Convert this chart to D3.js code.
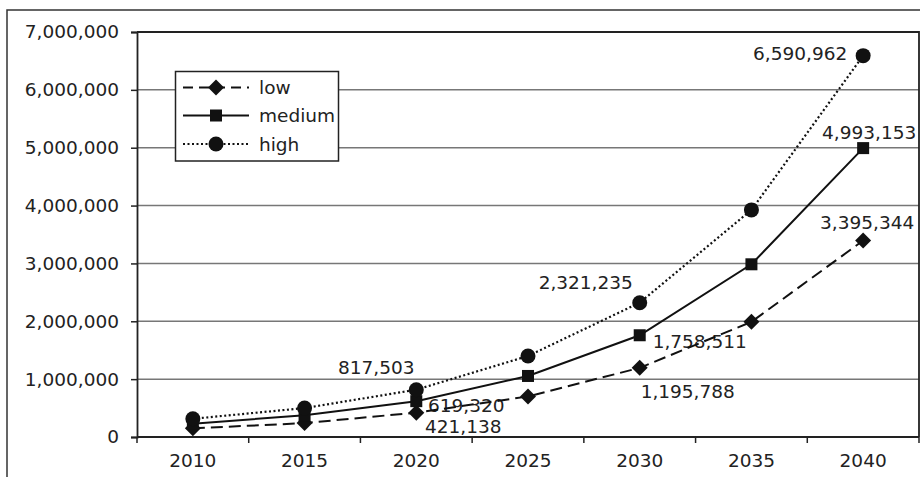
<!DOCTYPE html>
<html>
<head>
<meta charset="utf-8">
<script src="https://cdn.jsdelivr.net/npm/d3@7"></script>
<style>
  html, body { margin: 0; padding: 0; background: #fff; }
  svg { display: block; }
  text { font-family: "DejaVu Sans", sans-serif; fill: #222; }
</style>
</head>
<body>
<svg id="chart" width="920" height="477"></svg>
<script>
// Projection years and the three scenarios
const years = ["2010", "2015", "2020", "2025", "2030", "2035", "2040"];
const lowValues    = [150000, 240000, 421138, 700000, 1195788, 1990000, 3395344];
const mediumValues = [230000, 375000, 619320, 1055000, 1758511, 2985000, 4993153];
const highValues   = [315000, 500000, 817503, 1400000, 2321235, 3925000, 6590962];
const seriesNames  = ["low", "medium", "high"];
const yTickValues  = [0, 1000000, 2000000, 3000000, 4000000, 5000000, 6000000, 7000000];
const labelledIndices = [2, 4, 6];

const W = 920, H = 477;
const plot = { left: 137, right: 919, top: 32, bottom: 437 };
const fontSize = 18.5;
const fmt = d3.format(",");

const svg = d3.select("#chart");

const x = d3.scaleBand().domain(years).range([plot.left, plot.right]).padding(0);
const y = d3.scaleLinear().domain([0, 7000000]).range([plot.bottom, plot.top]);
const cx = d => x(d) + x.bandwidth() / 2;

// Series styling
const styles = {
  low:    { dash: "12,6", marker: "diamond" },
  medium: { dash: null,   marker: "square"  },
  high:   { dash: "2,2.5", marker: "circle" }
};

const series = [
  { name: "low",    values: lowValues },
  { name: "medium", values: mediumValues },
  { name: "high",   values: highValues }
];

// Label placement around each labelled point (text centre offset from the marker)
const labelOffsets = {
  low:    [[47, 14], [48, 24], [4, -18]],
  medium: [[50, 4],  [60, 6],  [6, -16]],
  high:   [[-40, -22], [-54, -20], [-63, -2]]
};

// Outer frame (runs off the right and bottom edges)
svg.append("path")
  .attr("d", `M7,${H + 2} V10 H${W + 2}`)
  .attr("fill", "none")
  .attr("stroke", "#333")
  .attr("stroke-width", 1.5);

// Horizontal gridlines
svg.append("g")
  .selectAll("line")
  .data(yTickValues.filter(v => v > 0 && v < 7000000))
  .join("line")
  .attr("x1", plot.left).attr("x2", plot.right)
  .attr("y1", d => y(d)).attr("y2", d => y(d))
  .attr("stroke", "#777")
  .attr("stroke-width", 1.5);

// Top and right plot borders
svg.append("path")
  .attr("d", `M${plot.left},${plot.top} H${plot.right} V${plot.bottom}`)
  .attr("fill", "none")
  .attr("stroke", "#222")
  .attr("stroke-width", 1.8);

// Y axis
const yAxis = d3.axisLeft(y)
  .tickValues(yTickValues)
  .tickFormat(fmt)
  .tickSize(6)
  .tickPadding(12);
const gy = svg.append("g").attr("transform", `translate(${plot.left},0)`).call(yAxis);
gy.select(".domain").attr("stroke", "#222").attr("stroke-width", 1.8);
gy.selectAll(".tick line").attr("stroke", "#222").attr("stroke-width", 1.5);
gy.selectAll(".tick text").style("font-size", fontSize + "px").attr("fill", "#222");

// X axis: ticks at category boundaries, labels centred on categories
const gx = svg.append("g").attr("transform", `translate(0,${plot.bottom})`);
gx.append("line")
  .attr("x1", plot.left).attr("x2", plot.right)
  .attr("stroke", "#222").attr("stroke-width", 1.8);
const boundaries = years.map(d => x(d)).concat([plot.right]);
gx.selectAll("line.tb")
  .data(boundaries)
  .join("line")
  .attr("class", "tb")
  .attr("x1", d => d).attr("x2", d => d)
  .attr("y1", 0).attr("y2", 6)
  .attr("stroke", "#222").attr("stroke-width", 1.5);
gx.selectAll("text")
  .data(years)
  .join("text")
  .attr("x", d => cx(d))
  .attr("y", 30)
  .attr("text-anchor", "middle")
  .style("font-size", fontSize + "px")
  .text(d => d);

// Value labels (drawn beneath the lines)
const labelLayer = svg.append("g");
series.forEach(s => {
  labelledIndices.forEach((idx, k) => {
    const [dx, dy] = labelOffsets[s.name][k];
    labelLayer.append("text")
      .attr("x", cx(years[idx]) + dx)
      .attr("y", y(s.values[idx]) + dy + fontSize * 0.36)
      .attr("text-anchor", "middle")
      .style("font-size", fontSize + "px")
      .text(fmt(s.values[idx]));
  });
});

// Lines
const line = d3.line().x((d, i) => cx(years[i])).y(d => y(d));
series.forEach(s => {
  svg.append("path")
    .datum(s.values)
    .attr("d", line)
    .attr("fill", "none")
    .attr("stroke", "#111")
    .attr("stroke-width", s.name === "high" ? 2.2 : 2)
    .attr("stroke-dasharray", styles[s.name].dash);
});

// Markers
function drawMarker(g, type, px, py) {
  if (type === "diamond") {
    g.append("path")
      .attr("d", `M${px},${py - 8} L${px + 8},${py} L${px},${py + 8} L${px - 8},${py} Z`)
      .attr("fill", "#111");
  } else if (type === "square") {
    g.append("rect")
      .attr("x", px - 6).attr("y", py - 6)
      .attr("width", 12).attr("height", 12)
      .attr("fill", "#111");
  } else {
    g.append("circle")
      .attr("cx", px).attr("cy", py).attr("r", 7.5)
      .attr("fill", "#111");
  }
}
const markerLayer = svg.append("g");
series.forEach(s => {
  s.values.forEach((v, i) => drawMarker(markerLayer, styles[s.name].marker, cx(years[i]), y(v)));
});

// Legend
const legend = svg.append("g");
legend.append("rect")
  .attr("x", 175.5).attr("y", 71.5)
  .attr("width", 163).attr("height", 89.5)
  .attr("fill", "#fff")
  .attr("stroke", "#222").attr("stroke-width", 1.5);
const legendRows = [87.5, 115.5, 144];
seriesNames.forEach((name, i) => {
  const ly = legendRows[i];
  legend.append("line")
    .attr("x1", 183).attr("x2", 249)
    .attr("y1", ly).attr("y2", ly)
    .attr("stroke", "#111")
    .attr("stroke-width", name === "high" ? 2.2 : 2)
    .attr("stroke-dasharray", name === "low" ? "10,6" : styles[name].dash);
  drawMarker(legend, styles[name].marker, 216, ly);
  legend.append("text")
    .attr("x", 259)
    .attr("y", ly + fontSize * 0.36)
    .style("font-size", fontSize + "px")
    .text(name);
});
</script>
</body>
</html>
